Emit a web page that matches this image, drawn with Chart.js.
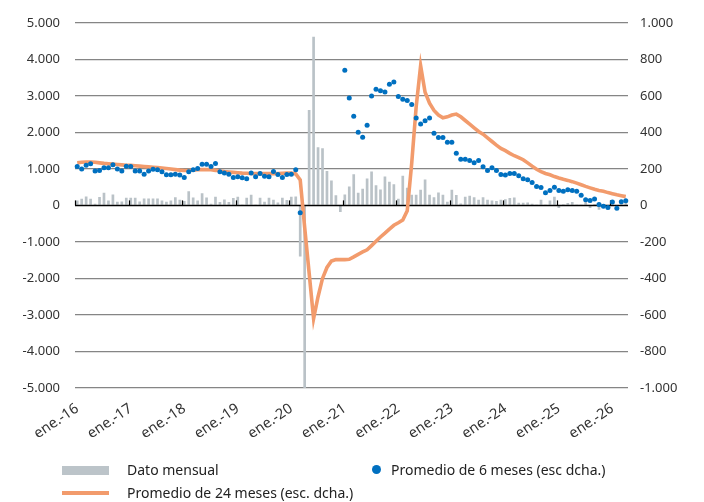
<!DOCTYPE html>
<html lang="es">
<head>
<meta charset="utf-8">
<script src="https://cdn.jsdelivr.net/npm/chart.js@4.4.1/dist/chart.umd.min.js"></script>
<style>
  body { margin: 0; background: #fff; }
  #wrap { position: relative; width: 704px; height: 502px; font-family: "Noto Sans", sans-serif; color: #222; }
  #grafico { position: absolute; left: 0; top: 0; }
  .ley { position: absolute; font-size: 14px; line-height: 18px; white-space: nowrap; }
  .sw { position: absolute; }
</style>
</head>
<body>
<div id="wrap">
  <canvas id="grafico" width="704" height="502"></canvas>
  <div class="sw" style="left:62px; top:466px; width:47px; height:9px; background:#BCC4C9;"></div>
  <div class="ley" style="left:127px; top:461px;">Dato mensual</div>
  <div class="sw" style="left:372px; top:465px; width:9px; height:9px; border-radius:50%; background:#0070C0;"></div>
  <div class="sw" style="left:62px; top:491px; width:47px; height:4px; background:#F29B6C;"></div>
  <div class="ley" style="left:127px; top:484px;">Promedio de 24 meses (esc. dcha.)</div>
  <div class="ley" style="left:391px; top:461px;">Promedio de 6 meses (esc dcha.)</div>
</div>
<script>
// etiquetas de meses (ene-16 .. abr-26)
const nombresMes = ['ene.', 'feb.', 'mar.', 'abr.', 'may.', 'jun.', 'jul.', 'ago.', 'sep.', 'oct.', 'nov.', 'dic.'];
const anios = ['16', '17', '18', '19', '20', '21', '22', '23', '24', '25', '26'];
const meses = [];
anios.forEach(a => nombresMes.forEach(m => meses.push(m + '-' + a)));
meses.length = 124;

// Dato mensual (escala izquierda)
const datoMensual = [
  137, 180, 245, 180, 45, 227, 345, 137, 300, 100, 110, 210,
  210, 210, 110, 190, 190, 190, 190, 137, 100, 137, 220, 155,
  120, 390, 215, 137, 330, 215, 45, 240, 90, 160, 90, 200,
  235, 10, 210, 290, 10, 210, 100, 210, 155, 80, 210, 145,
  240, 245, -1400, -5000, 2610, 4620, 1590, 1565, 940, 680, 275, -180,
  300, 520, 850, 345, 455, 740, 930, 555, 437, 790, 645, 580,
  180, 815, 480, 290, 290, 430, 710, 290, 220, 355, 290, 100,
  430, 285, 55, 240, 265, 220, 155, 220, 155, 135, 120, 155,
  170, 205, 215, 75, 75, 80, 45, 10, 155, 10, 135, 235,
  -70, 30, 65, 90, 10, 10, 120, -70, 40, -120, 30, -110,
  135, 20, 140, 140
];

// Promedio de 6 meses (escala derecha)
const prom6 = [
  213, 200, 220, 228, 188, 191, 206, 206, 222, 200, 188, 215,
  213, 188, 188, 171, 188, 198, 195, 184, 168, 168, 171, 166,
  153, 184, 195, 202, 226, 226, 213, 230, 184, 177, 171, 153,
  157, 151, 146, 177, 157, 175, 160, 157, 186, 169, 153, 169,
  171, 195, -40, null, null, null, null, null, null, null, null, null,
  740, 588, 488, 401, 373, 439, 599, 636, 628, 621, 663, 676,
  597, 581, 574, 552, 478, 446, 464, 478, 395, 372, 372, 346,
  346, 286, 253, 253, 246, 233, 246, 211, 191, 206, 191, 169,
  166, 175, 175, 162, 146, 140, 126, 104, 98, 69, 82, 100,
  82, 78, 86, 82, 78, 55, 31, 27, 35, 5, -5, -12,
  18, -16, 20, 26
];

// Promedio de 24 meses (escala derecha)
const prom24 = [
  233, 236, 238, 238, 236, 233, 230, 228, 226, 224, 222, 220,
  219, 217, 215, 213, 211, 209, 207, 205, 202, 199, 196, 193,
  191, 191, 193, 195, 196, 196, 195, 192, 188, 185, 183, 181,
  179, 177, 176, 175, 174, 174, 174, 174, 174, 175, 176, 177,
  177, 172, 140, -120, -370, -620, -500, -400, -340, -305, -296, -297,
  -297, -295, -282, -268, -255, -243, -220, -196, -173, -152, -130, -109,
  -95, -80, -30, 230, 540, 765, 620, 560, 520, 495, 480, 485,
  495, 500, 485, 465, 445, 425, 405, 390, 370, 350, 330, 312,
  300, 285, 272, 262, 250, 233, 215, 198, 185, 175, 168, 158,
  150, 143, 137, 130, 122, 113, 104, 96, 88, 82, 77, 70,
  64, 58, 53, 48
];

function miles(v) {
  const s = Math.abs(v).toString();
  const r = s.length > 3 ? s.slice(0, -3) + '.' + s.slice(-3) : s;
  return (v < 0 ? '-' : '') + r;
}

// línea del cero con marcas anuales
const ejeCero = {
  id: 'ejeCero',
  afterDatasetDraw(chart, args) {
    if (args.index !== 0) return;
    const { ctx, chartArea, scales } = chart;
    const y0 = scales.y.getPixelForValue(0);
    const paso = scales.x.width / meses.length;
    ctx.save();
    ctx.strokeStyle = '#000';
    ctx.lineWidth = 1.5;
    ctx.beginPath();
    ctx.moveTo(chartArea.left, y0);
    ctx.lineTo(chartArea.right, y0);
    ctx.stroke();
    ctx.lineWidth = 1.2;
    meses.forEach((m, i) => {
      if (i % 12 !== 0) return;
      const x = Math.round(scales.x.getPixelForValue(i) - paso / 2) + 0.5;
      ctx.beginPath();
      ctx.moveTo(x, y0);
      ctx.lineTo(x, y0 - 5);
      ctx.stroke();
    });
    ctx.restore();
  }
};

const fuente = { family: '"Noto Sans", sans-serif', size: 13 };

new Chart(document.getElementById('grafico'), {
  data: {
    labels: meses,
    datasets: [
      {
        type: 'bar', label: 'Dato mensual', data: datoMensual, yAxisID: 'y',
        backgroundColor: '#BAC2C7', barPercentage: 0.6, categoryPercentage: 1.0, order: 3
      },
      {
        type: 'line', label: 'Promedio de 24 meses (esc. dcha.)', data: prom24, yAxisID: 'yR',
        borderColor: '#F29B6C', borderWidth: 3.6, pointRadius: 0, tension: 0, order: 2
      },
      {
        type: 'line', label: 'Promedio de 6 meses (esc dcha.)', data: prom6, yAxisID: 'yR',
        showLine: false, pointRadius: 2.5, pointBorderWidth: 0,
        pointBackgroundColor: '#0070C0', borderColor: '#0070C0', order: 1
      }
    ]
  },
  options: {
    responsive: false,
    animation: false,
    layout: { padding: { top: 22, bottom: 54, left: 0, right: 0 } },
    plugins: { legend: { display: false }, tooltip: { enabled: false } },
    scales: {
      x: {
        type: 'category',
        offset: true,
        grid: { display: false, drawTicks: false },
        border: { display: false },
        ticks: {
          autoSkip: false, maxRotation: 34, minRotation: 34, padding: 12,
          color: '#333', font: { family: '"Noto Sans", sans-serif', size: 14.5 },
          callback: (v, i) => (i % 12 === 0 ? meses[i] : '')
        },
        afterFit: s => { s.height = 60; }
      },
      y: {
        position: 'left', min: -5000, max: 5000,
        ticks: { stepSize: 1000, color: '#333', font: fuente, padding: 15, callback: v => miles(v) },
        grid: { color: c => (c.tick.value === 0 ? 'rgba(0,0,0,0)' : '#858585'), lineWidth: 1.3, drawTicks: false },
        border: { display: false },
        afterFit: s => { s.width = 75; }
      },
      yR: {
        position: 'right', min: -1000, max: 1000,
        ticks: { stepSize: 200, color: '#333', font: fuente, padding: 12, callback: v => miles(v) },
        grid: { drawOnChartArea: false, drawTicks: false },
        border: { display: false },
        afterFit: s => { s.width = 76; }
      }
    }
  },
  plugins: [ejeCero]
});
</script>
</body>
</html>
